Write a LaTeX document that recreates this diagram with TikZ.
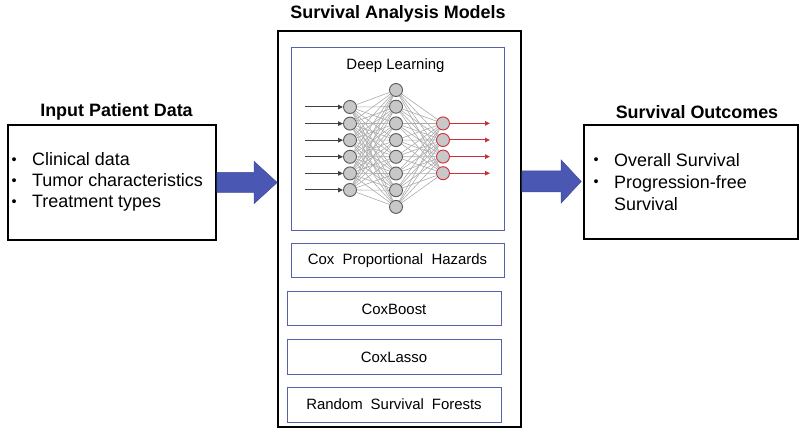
\documentclass[tikz,border=0pt]{standalone}
\usepackage{fontspec}
\setmainfont{Liberation Sans}
\usetikzlibrary{calc,arrows.meta}
\definecolor{arrowblue}{HTML}{4A58B4}
\definecolor{boxblue}{HTML}{5862A8}
\definecolor{nodegray}{HTML}{C8C8C8}
\definecolor{edgegray}{HTML}{ABABAB}
\definecolor{nnred}{HTML}{C8323C}
\definecolor{indark}{HTML}{404040}
\newcommand{\smallbul}{\raisebox{1.6bp}{\fontsize{14.5}{14.5}\selectfont\textbullet}}
\begin{document}
\begin{tikzpicture}[x=1bp,y=-1bp,
  outerbox/.style={draw=black,line width=1.6bp,inner sep=0pt},
  innerbox/.style={draw=boxblue,line width=1bp,inner sep=0pt,font=\fontsize{15}{18}\selectfont},
  titletext/.style={font=\bfseries\fontsize{18}{21}\selectfont},
  bodytext/.style={inner sep=0pt,anchor=west,align=left},
  neuron/.style={circle,draw=black!65,fill=nodegray,line width=0.9bp,minimum size=13bp,inner sep=0pt},
  outneuron/.style={neuron,draw=nnred},
  edgeline/.style={draw=edgegray,line width=0.6bp},
  inarrow/.style={draw=indark,line width=1bp,-{Triangle[length=5bp,width=4.5bp]}},
  outarrow/.style={draw=nnred,line width=1bp,-{Triangle[length=5bp,width=4.5bp]}},
  blockarrow/.style={fill=arrowblue,draw=arrowblue!85!black,line width=0.5bp}]

\useasboundingbox (0,0) rectangle (800,438);

% ---------- left box ----------
\node[outerbox,minimum width=208bp,minimum height=115bp] (inbox) at (112,182.5) {};
\node[titletext] (intitle) at (116.5,112) {Input Patient Data};
\node[bodytext] (intext) at (11.5,182.5) {\fontsize{18}{21}\selectfont
  \begin{tabular}{@{}p{20.5bp}@{}l@{}}
  \smallbul & Clinical data\\
  \smallbul & Tumor characteristics\\
  \smallbul & Treatment types
  \end{tabular}};

% ---------- centre box ----------
\node[outerbox,minimum width=243bp,minimum height=396bp] (models) at (399.5,229) {};
\node[titletext] (modtitle) at (398,14) {Survival Analysis Models};

\node[innerbox,minimum width=213bp,minimum height=183bp] (dlbox) at (397.5,139.5) {};
\node[font=\fontsize{15}{18}\selectfont,inner sep=0pt] (dltitle) at (395.5,66) {Deep Learning};

\node[innerbox,minimum width=213bp,minimum height=34bp] (coxph) at (397.5,261) {\spaceskip=8.3bp Cox Proportional Hazards};
\node[innerbox,minimum width=214bp,minimum height=34bp] (coxboost) at (394,309) {CoxBoost};
\node[innerbox,minimum width=214bp,minimum height=34bp] (coxlasso) at (394,357) {CoxLasso};
\node[innerbox,minimum width=214bp,minimum height=35bp] (rsf) at (394,404.5) {\spaceskip=8bp Random Survival Forests};

% ---------- neural network ----------
\foreach \i in {0,...,5}{
  \node[neuron] (a\i) at (350,{107+16.6*\i}) {};
  \coordinate (src\i) at (305,{107+16.6*\i});
}
\foreach \j in {0,...,7}{
  \node[neuron] (b\j) at (396,{90+16.7*\j}) {};
}
\foreach \k in {0,...,3}{
  \node[outneuron] (c\k) at (443,{123.4+16.6*\k}) {};
  \coordinate (dst\k) at (490,{123.4+16.6*\k});
}
\foreach \i in {0,...,5}{
  \foreach \j in {0,...,7}{
    \draw[edgeline] (a\i) -- (b\j);
  }
  \draw[inarrow] (src\i) -- (a\i);
}
\foreach \j in {0,...,7}{
  \foreach \k in {0,...,3}{
    \draw[edgeline] (b\j) -- (c\k);
  }
}
\foreach \k in {0,...,3}{
  \draw[outarrow] (c\k) -- (dst\k);
}

% ---------- right box ----------
\node[outerbox,minimum width=214bp,minimum height=114bp] (outbox) at (691,182) {};
\node[titletext] (outtitle) at (697,112) {Survival Outcomes};
\node[bodytext] (outtext) at (593.5,184) {\fontsize{18}{22}\selectfont
  \begin{tabular}{@{}p{20.5bp}@{}l@{}}
  \smallbul & Overall Survival\\
  \smallbul & Progression-free\\
              & Survival
  \end{tabular}};

% ---------- block arrows ----------
\path[blockarrow] let \p1=(inbox.east), \p2=(models.west) in
  ({\x1},{\y1+10bp}) -- ({\x2-23bp},{\y1+10bp}) -- ({\x2-23bp},{\y1+21bp}) --
  ({\x2},{\y1}) -- ({\x2-23bp},{\y1-21bp}) -- ({\x2-23bp},{\y1-10bp}) --
  ({\x1},{\y1-10bp}) -- cycle;
\path[blockarrow] let \p1=(models.east), \p2=(outbox.west) in
  ({\x1},{\y2+11bp}) -- ({\x2-22bp},{\y2+11bp}) -- ({\x2-22bp},{\y2+22bp}) --
  ({\x2-2bp},{\y2+0.5bp}) -- ({\x2-22bp},{\y2-21bp}) -- ({\x2-22bp},{\y2-10bp}) --
  ({\x1},{\y2-10bp}) -- cycle;
\end{tikzpicture}
\end{document}
